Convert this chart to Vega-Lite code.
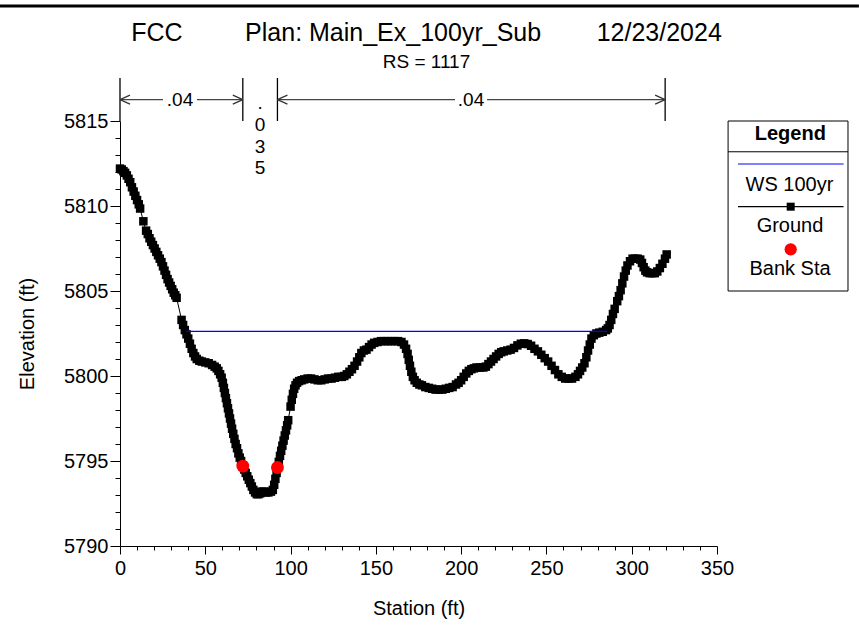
{
  "$schema": "https://vega.github.io/schema/vega-lite/v6.json",
  "width": 597,
  "height": 425,
  "autosize": {"type": "none"},
  "padding": {"left": 120, "top": 121, "right": 142, "bottom": 80},
  "background": "white",
  "config": {
    "font": "Liberation Sans",
    "view": {"stroke": null},
    "axis": {
      "domainColor": "black", "tickColor": "black", "labelColor": "black", "titleColor": "black",
      "labelFont": "Liberation Sans", "titleFont": "Liberation Sans",
      "labelFontSize": 20, "titleFontSize": 20, "titleFontWeight": "normal",
      "grid": false, "labelOverlap": false, "labelFlush": false, "domainWidth": 1, "tickWidth": 1
    }
  },
  "title": {
    "text": "FCC\u00a0\u00a0\u00a0\u00a0\u00a0\u00a0\u00a0\u00a0\u00a0Plan: Main_Ex_100yr_Sub\u00a0\u00a0\u00a0\u00a0\u00a0\u00a0\u00a0\u00a012/23/2024",
    "subtitle": "RS = 1117",
    "font": "Liberation Sans", "fontSize": 25, "fontWeight": "normal", "color": "black",
    "subtitleFont": "Liberation Sans", "subtitleFontSize": 19, "subtitleColor": "black", "subtitlePadding": 7,
    "anchor": "middle", "frame": "group", "offset": -67, "dx": 8
  },
  "datasets": {
    "ground": [
      {"station":0,"elevation":5812.2},{"station":1,"elevation":5812.15},{"station":2,"elevation":5812.05},{"station":3,"elevation":5811.95},{"station":4,"elevation":5811.8},{"station":5,"elevation":5811.6},{"station":6,"elevation":5811.4},{"station":7,"elevation":5811.1},{"station":8,"elevation":5810.85},{"station":9,"elevation":5810.6},{"station":10,"elevation":5810.35},{"station":11,"elevation":5810.1},{"station":11.8,"elevation":5809.85},{"station":13.7,"elevation":5809.1},{"station":15.3,"elevation":5808.55},{"station":16.3,"elevation":5808.35},{"station":17.3,"elevation":5808.1},{"station":18.3,"elevation":5807.9},{"station":19.3,"elevation":5807.7},{"station":20.3,"elevation":5807.5},{"station":21.3,"elevation":5807.3},{"station":22.3,"elevation":5807.1},{"station":23.3,"elevation":5806.9},{"station":24.3,"elevation":5806.7},{"station":25.2,"elevation":5806.45},{"station":26.1,"elevation":5806.2},{"station":27,"elevation":5805.95},{"station":27.9,"elevation":5805.7},{"station":28.8,"elevation":5805.5},{"station":29.7,"elevation":5805.3},{"station":30.6,"elevation":5805.1},{"station":31.5,"elevation":5804.9},{"station":32.4,"elevation":5804.75},{"station":33.2,"elevation":5804.6},{"station":36.1,"elevation":5803.3},{"station":37,"elevation":5803.0},{"station":38,"elevation":5802.7},{"station":39,"elevation":5802.45},{"station":40,"elevation":5802.2},{"station":41,"elevation":5801.9},{"station":42,"elevation":5801.6},{"station":43,"elevation":5801.35},{"station":44,"elevation":5801.15},{"station":45,"elevation":5801.0},{"station":46.5,"elevation":5800.9},{"station":48,"elevation":5800.85},{"station":50,"elevation":5800.8},{"station":52,"elevation":5800.75},{"station":54,"elevation":5800.65},{"station":55.5,"elevation":5800.55},{"station":56.7,"elevation":5800.45},{"station":57.7,"elevation":5800.3},{"station":58.7,"elevation":5800.1},{"station":59.6,"elevation":5799.9},{"station":60.3,"elevation":5799.6},{"station":60.9,"elevation":5799.3},{"station":61.5,"elevation":5799.0},{"station":62.1,"elevation":5798.7},{"station":62.7,"elevation":5798.4},{"station":63.3,"elevation":5798.1},{"station":63.9,"elevation":5797.8},{"station":64.5,"elevation":5797.5},{"station":65.1,"elevation":5797.2},{"station":65.7,"elevation":5796.9},{"station":66.4,"elevation":5796.6},{"station":67.1,"elevation":5796.3},{"station":67.8,"elevation":5796.0},{"station":68.6,"elevation":5795.75},{"station":69.4,"elevation":5795.45},{"station":70.2,"elevation":5795.2},{"station":71,"elevation":5795.0},{"station":71.9,"elevation":5794.75},{"station":72.8,"elevation":5794.5},{"station":73.7,"elevation":5794.3},{"station":74.6,"elevation":5794.1},{"station":75.5,"elevation":5793.9},{"station":76.4,"elevation":5793.7},{"station":77.3,"elevation":5793.5},{"station":78.2,"elevation":5793.3},{"station":79.2,"elevation":5793.15},{"station":80.2,"elevation":5793.05},{"station":81.2,"elevation":5793.05},{"station":82.2,"elevation":5793.1},{"station":83.2,"elevation":5793.2},{"station":84.2,"elevation":5793.2},{"station":85.5,"elevation":5793.15},{"station":87,"elevation":5793.15},{"station":88.5,"elevation":5793.2},{"station":89.6,"elevation":5793.3},{"station":90.4,"elevation":5793.6},{"station":91.1,"elevation":5793.95},{"station":91.8,"elevation":5794.3},{"station":92.4,"elevation":5794.6},{"station":93.1,"elevation":5794.95},{"station":93.8,"elevation":5795.3},{"station":94.5,"elevation":5795.6},{"station":95.2,"elevation":5795.9},{"station":95.9,"elevation":5796.2},{"station":96.6,"elevation":5796.5},{"station":97.3,"elevation":5796.8},{"station":98,"elevation":5797.1},{"station":98.6,"elevation":5797.4},{"station":100,"elevation":5798.2},{"station":100.7,"elevation":5798.6},{"station":101.4,"elevation":5798.95},{"station":102.1,"elevation":5799.25},{"station":102.9,"elevation":5799.45},{"station":103.8,"elevation":5799.6},{"station":105,"elevation":5799.7},{"station":106.5,"elevation":5799.75},{"station":108,"elevation":5799.8},{"station":110,"elevation":5799.85},{"station":112,"elevation":5799.85},{"station":114,"elevation":5799.8},{"station":116,"elevation":5799.75},{"station":118,"elevation":5799.75},{"station":120,"elevation":5799.8},{"station":122,"elevation":5799.85},{"station":124,"elevation":5799.85},{"station":126,"elevation":5799.9},{"station":128,"elevation":5799.95},{"station":130,"elevation":5799.95},{"station":131.5,"elevation":5800.0},{"station":133,"elevation":5800.1},{"station":134.5,"elevation":5800.25},{"station":136,"elevation":5800.4},{"station":137.5,"elevation":5800.6},{"station":139,"elevation":5800.85},{"station":140.3,"elevation":5801.1},{"station":141.5,"elevation":5801.35},{"station":143,"elevation":5801.5},{"station":144.5,"elevation":5801.55},{"station":146,"elevation":5801.7},{"station":147.5,"elevation":5801.85},{"station":149,"elevation":5801.95},{"station":151,"elevation":5802.0},{"station":153,"elevation":5802.05},{"station":155,"elevation":5802.05},{"station":157,"elevation":5802.05},{"station":159,"elevation":5802.05},{"station":161,"elevation":5802.05},{"station":163,"elevation":5802.05},{"station":165,"elevation":5802.0},{"station":166.5,"elevation":5801.85},{"station":167.7,"elevation":5801.6},{"station":168.6,"elevation":5801.3},{"station":169.3,"elevation":5800.95},{"station":170,"elevation":5800.6},{"station":170.8,"elevation":5800.25},{"station":171.7,"elevation":5799.95},{"station":172.7,"elevation":5799.75},{"station":174,"elevation":5799.6},{"station":175.5,"elevation":5799.5},{"station":177,"elevation":5799.45},{"station":179,"elevation":5799.35},{"station":181,"elevation":5799.3},{"station":183,"elevation":5799.25},{"station":185,"elevation":5799.2},{"station":187,"elevation":5799.2},{"station":189,"elevation":5799.2},{"station":191,"elevation":5799.25},{"station":193,"elevation":5799.3},{"station":195,"elevation":5799.35},{"station":197,"elevation":5799.5},{"station":198.5,"elevation":5799.6},{"station":200,"elevation":5799.75},{"station":201.5,"elevation":5799.95},{"station":203,"elevation":5800.15},{"station":204.5,"elevation":5800.3},{"station":206,"elevation":5800.4},{"station":207.5,"elevation":5800.45},{"station":209,"elevation":5800.5},{"station":211,"elevation":5800.5},{"station":213,"elevation":5800.5},{"station":214.5,"elevation":5800.55},{"station":216,"elevation":5800.7},{"station":217.5,"elevation":5800.85},{"station":219,"elevation":5801.0},{"station":220.5,"elevation":5801.15},{"station":222,"elevation":5801.3},{"station":223.5,"elevation":5801.4},{"station":225,"elevation":5801.45},{"station":227,"elevation":5801.5},{"station":229,"elevation":5801.55},{"station":231,"elevation":5801.65},{"station":233,"elevation":5801.8},{"station":235,"elevation":5801.9},{"station":237,"elevation":5801.92},{"station":239,"elevation":5801.88},{"station":241,"elevation":5801.78},{"station":243,"elevation":5801.6},{"station":245,"elevation":5801.45},{"station":247,"elevation":5801.25},{"station":249,"elevation":5801.05},{"station":251,"elevation":5800.85},{"station":253,"elevation":5800.6},{"station":255,"elevation":5800.35},{"station":257,"elevation":5800.1},{"station":259,"elevation":5799.95},{"station":261,"elevation":5799.85},{"station":263,"elevation":5799.85},{"station":265,"elevation":5799.85},{"station":267,"elevation":5799.95},{"station":268.5,"elevation":5800.1},{"station":269.7,"elevation":5800.3},{"station":271,"elevation":5800.5},{"station":272.3,"elevation":5800.75},{"station":273.4,"elevation":5801.1},{"station":274.4,"elevation":5801.5},{"station":275.4,"elevation":5801.85},{"station":276.4,"elevation":5802.2},{"station":277.8,"elevation":5802.4},{"station":279.3,"elevation":5802.5},{"station":281,"elevation":5802.55},{"station":283,"elevation":5802.6},{"station":285,"elevation":5802.7},{"station":286,"elevation":5802.8},{"station":287,"elevation":5803.0},{"station":288,"elevation":5803.3},{"station":289,"elevation":5803.65},{"station":290,"elevation":5803.95},{"station":291.5,"elevation":5804.4},{"station":292.5,"elevation":5804.7},{"station":293.5,"elevation":5805.05},{"station":294.5,"elevation":5805.45},{"station":295.5,"elevation":5805.85},{"station":296.5,"elevation":5806.2},{"station":297.5,"elevation":5806.5},{"station":299,"elevation":5806.75},{"station":300.5,"elevation":5806.9},{"station":302,"elevation":5806.9},{"station":303.5,"elevation":5806.9},{"station":305,"elevation":5806.85},{"station":306,"elevation":5806.65},{"station":307,"elevation":5806.4},{"station":308,"elevation":5806.2},{"station":309,"elevation":5806.1},{"station":310.5,"elevation":5806.05},{"station":312,"elevation":5806.05},{"station":313.5,"elevation":5806.05},{"station":315,"elevation":5806.15},{"station":316.5,"elevation":5806.35},{"station":318,"elevation":5806.6},{"station":319.5,"elevation":5806.9},{"station":320.5,"elevation":5807.15}
    ],
    "banks": [{"station":72.0,"elevation":5794.7},{"station":92.3,"elevation":5794.62}],
    "ws": [{"station":38.7,"elevation":5802.63},{"station":285.5,"elevation":5802.63}],
    "frame": [{"station":-70.35,"station2":433.2,"elevation":5821.76}],
    "nBounds": [
      {"station":0,"elevation":5815,"elevation2":5817.53},
      {"station":72.0,"elevation":5815,"elevation2":5817.53},
      {"station":92.3,"elevation":5815,"elevation2":5817.53},
      {"station":319.6,"elevation":5815,"elevation2":5817.53}
    ],
    "nSegments": [
      {"station":0,"station2":25.2,"elevation":5816.26},
      {"station":45.1,"station2":72.0,"elevation":5816.26},
      {"station":92.3,"station2":196.4,"elevation":5816.26},
      {"station":215.2,"station2":319.6,"elevation":5816.26}
    ],
    "nArrows": [
      {"station":0,"elevation":5816.26,"dir":"left"},
      {"station":72.0,"elevation":5816.26,"dir":"right"},
      {"station":92.3,"elevation":5816.26,"dir":"left"},
      {"station":319.6,"elevation":5816.26,"dir":"right"}
    ],
    "nLabels": [
      {"station":35.2,"elevation":5816.26,"label":".04"},
      {"station":205.8,"elevation":5816.26,"label":".04"}
    ],
    "nVertical": [{"station":82.1,"elevation":5815.69,"label":".\n0\n3\n5"}],
    "legendBox": [{"station":356.5,"station2":426.8,"elevation":5805,"elevation2":5815}],
    "legendSep": [{"station":356.5,"station2":426.8,"elevation":5813.19}],
    "legendLines": [
      {"item":"WS 100yr","station":362.3,"station2":424.2,"elevation":5812.47},
      {"item":"Ground","station":362.3,"station2":424.2,"elevation":5809.96}
    ],
    "legendSymbols": [
      {"item":"Ground","station":393.2,"elevation":5809.96},
      {"item":"Bank Sta","station":393.2,"elevation":5807.45}
    ],
    "legendTitle": [{"station":393.0,"elevation":5814.24,"label":"Legend"}],
    "legendLabels": [
      {"station":392.5,"elevation":5811.24,"label":"WS 100yr"},
      {"station":392.8,"elevation":5808.82,"label":"Ground"},
      {"station":392.8,"elevation":5806.28,"label":"Bank Sta"}
    ]
  },
  "encoding": {
    "x": {
      "field": "station", "type": "quantitative", "title": "Station (ft)",
      "scale": {"domain": [0, 350], "nice": false, "zero": false},
      "axis": {
        "values": [0,10,20,30,40,50,60,70,80,90,100,110,120,130,140,150,160,170,180,190,200,210,220,230,240,250,260,270,280,290,300,310,320,330,340,350],
        "labelExpr": "datum.value % 50 === 0 ? datum.label : ''",
        "tickSize": {"condition": {"test": "datum.value % 50 === 0", "value": 8}, "value": 4},
        "labelPadding": 4, "titlePadding": 20
      }
    },
    "y": {
      "field": "elevation", "type": "quantitative", "title": "Elevation (ft)",
      "scale": {"domain": [5790, 5815], "nice": false, "zero": false},
      "axis": {
        "values": [5790,5791,5792,5793,5794,5795,5796,5797,5798,5799,5800,5801,5802,5803,5804,5805,5806,5807,5808,5809,5810,5811,5812,5813,5814,5815],
        "labelExpr": "datum.value % 5 === 0 ? datum.label : ''",
        "tickSize": {"condition": {"test": "datum.value % 5 === 0", "value": 10}, "value": 5},
        "labelPadding": 2, "titlePadding": 26, "format": "d"
      }
    }
  },
  "layer": [
    {"data": {"name": "frame"}, "mark": {"type": "rule", "color": "black", "strokeWidth": 3, "clip": false},
     "encoding": {"x2": {"field": "station2"}}},
    {"data": {"name": "ground"}, "mark": {"type": "line", "color": "black", "strokeWidth": 1}, "encoding": {}},
    {"data": {"name": "ground"}, "mark": {"type": "point", "shape": "square", "filled": true, "color": "black", "size": 72, "opacity": 1}, "encoding": {}},
    {"data": {"name": "ws"}, "mark": {"type": "line", "color": "#0000ff", "strokeWidth": 1.2}, "encoding": {}},
    {"data": {"name": "banks"}, "mark": {"type": "point", "shape": "circle", "filled": true, "color": "#ff0000", "size": 165, "opacity": 1}, "encoding": {}},
    {"data": {"name": "nBounds"}, "mark": {"type": "rule", "color": "black", "strokeWidth": 1.3, "clip": false},
     "encoding": {"y2": {"field": "elevation2"}}},
    {"data": {"name": "nSegments"}, "mark": {"type": "rule", "color": "#444444", "strokeWidth": 1.2, "clip": false},
     "encoding": {"x2": {"field": "station2"}}},
    {"data": {"name": "nArrows"}, "mark": {"type": "point", "filled": false, "color": "#333333", "strokeWidth": 1.2, "size": 100, "opacity": 1, "clip": false},
     "encoding": {"shape": {"field": "dir", "type": "nominal", "legend": null,
       "scale": {"domain": ["left", "right"], "range": ["M0,0L2,-0.9M0,0L2,0.9", "M0,0L-2,-0.9M0,0L-2,0.9"]}}}},
    {"data": {"name": "nLabels"}, "mark": {"type": "text", "fontSize": 19, "color": "black", "align": "center", "baseline": "middle", "clip": false},
     "encoding": {"text": {"field": "label"}}},
    {"data": {"name": "nVertical"}, "mark": {"type": "text", "fontSize": 19, "color": "black", "align": "center", "baseline": "alphabetic", "lineBreak": "\n", "lineHeight": 21.7, "clip": false},
     "encoding": {"text": {"field": "label"}}},
    {"data": {"name": "legendBox"}, "mark": {"type": "rect", "fill": "white", "stroke": "black", "strokeWidth": 1, "clip": false},
     "encoding": {"x2": {"field": "station2"}, "y2": {"field": "elevation2"}}},
    {"data": {"name": "legendSep"}, "mark": {"type": "rule", "color": "black", "strokeWidth": 1, "clip": false},
     "encoding": {"x2": {"field": "station2"}}},
    {"data": {"name": "legendLines"}, "mark": {"type": "rule", "strokeWidth": 1.2, "clip": false},
     "encoding": {"x2": {"field": "station2"},
       "color": {"field": "item", "type": "nominal", "legend": null, "scale": {"domain": ["WS 100yr", "Ground", "Bank Sta"], "range": ["#0000ff", "#000000", "#ff0000"]}}}},
    {"data": {"name": "legendSymbols"}, "transform": [{"filter": "datum.item === 'Ground'"}],
     "mark": {"type": "point", "shape": "square", "filled": true, "color": "black", "size": 64, "opacity": 1, "clip": false}, "encoding": {}},
    {"data": {"name": "legendSymbols"}, "transform": [{"filter": "datum.item === 'Bank Sta'"}],
     "mark": {"type": "point", "shape": "circle", "filled": true, "color": "#ff0000", "size": 150, "opacity": 1, "clip": false}, "encoding": {}},
    {"data": {"name": "legendTitle"}, "mark": {"type": "text", "fontSize": 20, "fontWeight": "bold", "color": "black", "align": "center", "baseline": "middle", "clip": false},
     "encoding": {"text": {"field": "label"}}},
    {"data": {"name": "legendLabels"}, "mark": {"type": "text", "fontSize": 20, "color": "black", "align": "center", "baseline": "middle", "clip": false},
     "encoding": {"text": {"field": "label"}}}
  ]
}
